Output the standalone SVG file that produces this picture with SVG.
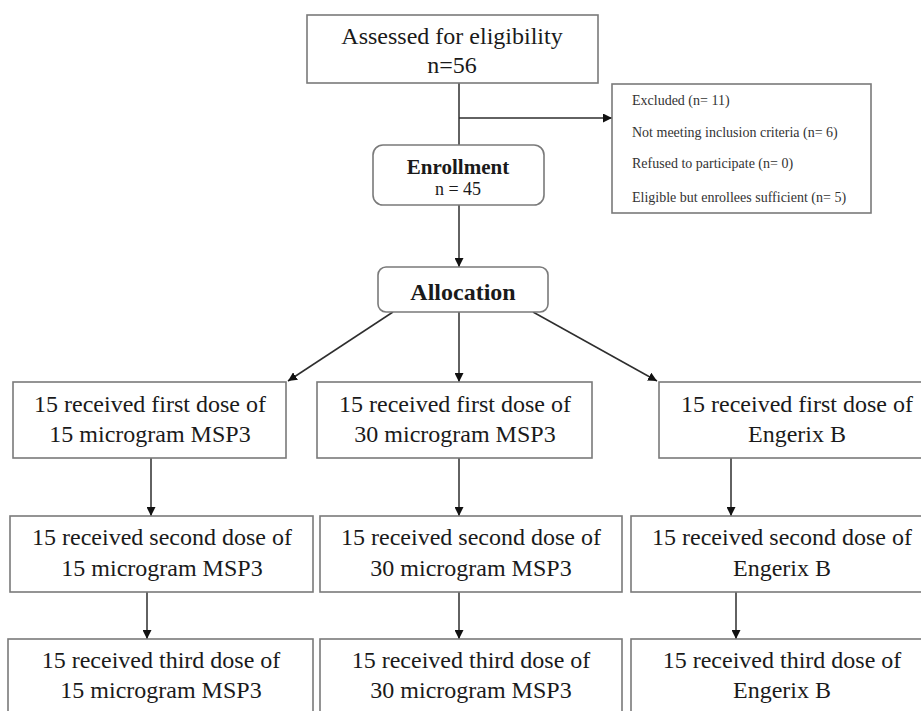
<svg xmlns="http://www.w3.org/2000/svg" width="921" height="711" viewBox="0 0 921 711">
<style>
  .box { fill: #ffffff; stroke: #7a7a7a; stroke-width: 1.6; }
  .t { font-family: "Liberation Serif", "Times New Roman", serif; fill: #1a1a1a; text-anchor: middle; }
  .m { font-size: 24px; }
  .s { font-size: 14px; text-anchor: start; fill: #333333; }
  .b { font-weight: bold; }
  .conn { stroke: #2e2e2e; stroke-width: 1.5; fill: none; }
</style>
<defs>
  <marker id="arr" viewBox="0 0 10 10" refX="10" refY="5" markerWidth="9" markerHeight="9" markerUnits="userSpaceOnUse" orient="auto">
    <path d="M0,0 L10,5 L0,10 z" fill="#111111"/>
  </marker>
</defs>
<rect width="921" height="711" fill="#ffffff"/>

<g id="connectors">
  <line class="conn" x1="459" y1="83" x2="459" y2="145"/>
  <line class="conn" x1="459" y1="118" x2="612" y2="118" marker-end="url(#arr)"/>
  <line class="conn" x1="459" y1="205" x2="459" y2="267" marker-end="url(#arr)"/>
  <line class="conn" x1="393" y1="312" x2="288" y2="381" marker-end="url(#arr)"/>
  <line class="conn" x1="459" y1="312" x2="459" y2="382" marker-end="url(#arr)"/>
  <line class="conn" x1="533" y1="312" x2="657" y2="381" marker-end="url(#arr)"/>
  <line class="conn" x1="151" y1="458" x2="151" y2="516" marker-end="url(#arr)"/>
  <line class="conn" x1="459" y1="458" x2="459" y2="516" marker-end="url(#arr)"/>
  <line class="conn" x1="731" y1="458" x2="731" y2="516" marker-end="url(#arr)"/>
  <line class="conn" x1="147" y1="592" x2="147" y2="639" marker-end="url(#arr)"/>
  <line class="conn" x1="459" y1="592" x2="459" y2="639" marker-end="url(#arr)"/>
  <line class="conn" x1="736" y1="592" x2="736" y2="639" marker-end="url(#arr)"/>
</g>

<g id="assessed">
  <rect class="box" x="307" y="15" width="291" height="68"/>
  <text class="t m" x="452" y="44">Assessed for eligibility</text>
  <text class="t m" x="452" y="73">n=56</text>
</g>

<g id="excluded">
  <rect class="box" x="612" y="84" width="259" height="129"/>
  <text class="t s" x="632" y="105">Excluded (n= 11)</text>
  <text class="t s" x="632" y="137">Not meeting inclusion criteria (n= 6)</text>
  <text class="t s" x="632" y="168">Refused to participate (n= 0)</text>
  <text class="t s" x="632" y="202">Eligible but enrollees sufficient (n= 5)</text>
</g>

<g id="enrollment">
  <rect class="box" x="373" y="145" width="171" height="60" rx="10" ry="10"/>
  <text class="t b" x="458" y="174" font-size="21">Enrollment</text>
  <text class="t" x="458" y="195" font-size="18">n = 45</text>
</g>

<g id="allocation">
  <rect class="box" x="378" y="267" width="170" height="45" rx="8" ry="8"/>
  <text class="t b" x="463" y="300" font-size="24">Allocation</text>
</g>

<g id="first15">
  <rect class="box" x="13" y="382" width="273" height="76"/>
  <text class="t m" x="150" y="412">15 received first dose of</text>
  <text class="t m" x="150" y="442">15 microgram MSP3</text>
</g>
<g id="first30">
  <rect class="box" x="317" y="382" width="275" height="76"/>
  <text class="t m" x="455" y="412">15 received first dose of</text>
  <text class="t m" x="455" y="442">30 microgram MSP3</text>
</g>
<g id="firstEng">
  <rect class="box" x="659" y="382" width="276" height="76"/>
  <text class="t m" x="797" y="412">15 received first dose of</text>
  <text class="t m" x="797" y="442">Engerix B</text>
</g>

<g id="second15">
  <rect class="box" x="10" y="516" width="303" height="76"/>
  <text class="t m" x="162" y="545">15 received second dose of</text>
  <text class="t m" x="162" y="576">15 microgram MSP3</text>
</g>
<g id="second30">
  <rect class="box" x="320" y="516" width="302" height="76"/>
  <text class="t m" x="471" y="545">15 received second dose of</text>
  <text class="t m" x="471" y="576">30 microgram MSP3</text>
</g>
<g id="secondEng">
  <rect class="box" x="631" y="516" width="302" height="76"/>
  <text class="t m" x="782" y="545">15 received second dose of</text>
  <text class="t m" x="782" y="576">Engerix B</text>
</g>

<g id="third15">
  <rect class="box" x="8" y="639" width="305" height="90"/>
  <text class="t m" x="161" y="668">15 received third dose of</text>
  <text class="t m" x="161" y="698">15 microgram MSP3</text>
</g>
<g id="third30">
  <rect class="box" x="320" y="639" width="302" height="90"/>
  <text class="t m" x="471" y="668">15 received third dose of</text>
  <text class="t m" x="471" y="698">30 microgram MSP3</text>
</g>
<g id="thirdEng">
  <rect class="box" x="631" y="639" width="302" height="90"/>
  <text class="t m" x="782" y="668">15 received third dose of</text>
  <text class="t m" x="782" y="698">Engerix B</text>
</g>
</svg>
